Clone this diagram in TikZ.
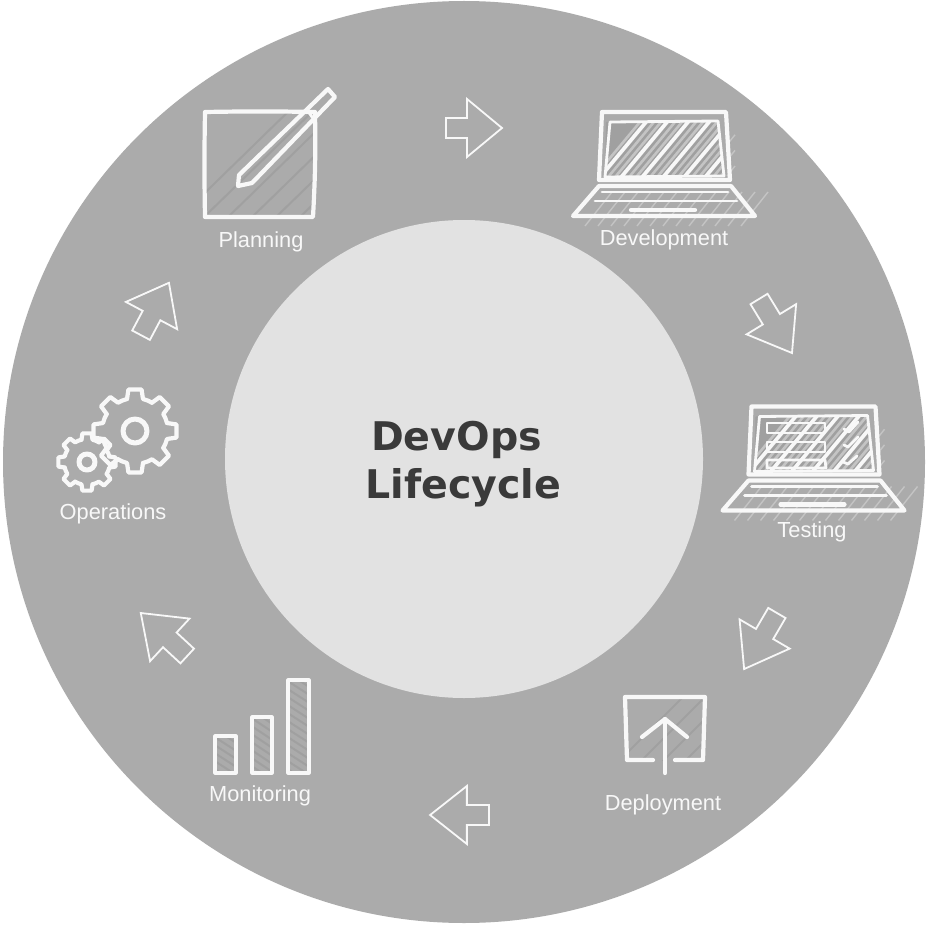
\documentclass[tikz,border=0pt]{standalone}
\usepackage{fontspec}
\setmainfont{Liberation Sans}
\newfontfamily\titlefont{DejaVu Sans}
\definecolor{ringgray}{HTML}{ABABAB}
\definecolor{hubgray}{HTML}{E2E2E2}
\definecolor{hatchdark}{HTML}{A0A0A0}
\definecolor{hatchpale}{HTML}{C4C4C4}
\definecolor{inkwhite}{HTML}{F8F8F8}
\definecolor{titleink}{HTML}{3A3A3A}
\tikzset{
  steplabel/.style={text=inkwhite,font=\fontsize{21.8}{24}\selectfont,inner sep=0pt},
  titleline/.style={text=titleink,font=\titlefont\bfseries\fontsize{39.5}{44}\selectfont,inner sep=0pt},
  sketch/.style={draw=inkwhite,line width=4.2pt,line join=round,line cap=round},
  thinsketch/.style={draw=inkwhite,line width=2.8pt,line join=round,line cap=round},
  flowarrow/.pic={
    \draw[draw=inkwhite,line width=1.8pt,line join=miter]
      (-28,-10) -- (-7,-10) -- (-7,-29) -- (28,0) -- (-7,29) -- (-7,10) -- (-28,10) -- cycle;
  },
  laptop/.pic={
    \begin{scope}
      \clip (606,122) -- (718,121) -- (724,176) -- (605,177) -- cycle;
      \fill[hatchdark] (600,115) rectangle (730,180);
      \foreach \k in {0,7,...,161} \draw[hatchpale,line width=2.6pt] (590+\k,182) -- (645+\k,116);
      \foreach \k in {0,21,...,147} \draw[inkwhite,line width=3.6pt] (596+\k,182) -- (651+\k,116);
    \end{scope}
    \foreach \k in {0,13,...,156} \draw[hatchpale,line width=1.4pt] (585+\k,226) -- (612+\k,192);
    \foreach \k in {0,13,26} \draw[hatchpale,line width=1.4pt] (727,176-\k*1.2) -- (735,166-\k*1.2);
    \draw[sketch] (602,112) -- (726,112) -- (730,180) -- (599,180) -- cycle;
    \draw[thinsketch] (610,122) -- (718,121) -- (724,176) -- (605,177) -- cycle;
    \draw[sketch] (599,186) -- (731,186) -- (755,216) -- (573,216) -- cycle;
    \draw[thinsketch] (602,192) -- (728,192);
    \draw[thinsketch] (595,201) -- (737,201);
    \draw[sketch] (631,210) -- (695,210);
  },
  gearwheel/.pic={
    \foreach \a in {0,45,...,315}
      \draw[sketch,rotate=\a] (-14:\gearroot) -- (-9:\geartip) -- (9:\geartip) -- (14:\gearroot) arc[start angle=14,end angle=31,radius=\gearroot];
    \draw[sketch,line width=5pt] (0,0) circle[radius=\gearhole];
  }
}
\begin{document}
\begin{tikzpicture}[x=1pt,y=-1pt]
\useasboundingbox (0,0) rectangle (928,925);
\fill[white] (0,0) rectangle (928,925);
\fill[ringgray] (464,462) circle[radius=461];
\fill[hubgray] (464,459) circle[radius=239];

% title
\node[titleline] (devops) at (456.5,440) {DevOps};
\node[titleline] (lifecycle) at (463.5,488) {Lifecycle};

% arrows between the stages
\pic at (474,128) {flowarrow};
\pic[rotate=-58.6,xscale=1.13] at (775.5,326) {flowarrow};
\pic[rotate=-120.3,xscale=1.16] at (760.5,641) {flowarrow};
\pic[rotate=180,xscale=1.05] at (459.5,815) {flowarrow};
\pic[rotate=-222.8,xscale=1.13] at (164,634.5) {flowarrow};
\pic[rotate=62,xscale=1.06] at (155,309) {flowarrow};

% planning
\begin{scope}
  \clip (205,112) rectangle (315,217);
  \foreach \k in {0,24,...,216} \draw[hatchdark,line width=2pt] (175+\k,222) -- (295+\k,105);
\end{scope}
\draw[sketch] (205,112) to[bend left=1] (315,112) to[bend left=2] (313,217) -- (205,217) to[bend left=1] cycle;
\draw[sketch] (239,175) -- (328,89) -- (335,97) -- (252,183) -- (238,186) -- cycle;
\draw[thinsketch] (307,110) -- (315,121);
\node[steplabel] (planning) at (261,242) {Planning};

% development
\pic at (0,0) {laptop};
\node[steplabel] (development) at (664,240) {Development};

% testing
\pic at (149.5,294.5) {laptop};
\draw[thinsketch] (767,423) -- (825,423) -- (825,433) -- (767,433) -- cycle;
\draw[thinsketch] (767,442) -- (825,442) -- (825,452) -- (767,452) -- cycle;
\draw[thinsketch] (767,460) -- (825,460) -- (826,468) -- (767,468) -- cycle;
\draw[thinsketch] (844,429) -- (849,432) -- (858,422);
\draw[thinsketch] (844,445) -- (848,447) -- (858,437);
\draw[thinsketch] (843,462) -- (848,464) -- (857,456);
\node[steplabel] (testing) at (812,532) {Testing};

% deployment
\begin{scope}
  \clip (625,697) rectangle (705,760);
  \foreach \k in {0,22,...,110} \draw[hatchdark,line width=2pt] (610+\k,770) -- (690+\k,690);
\end{scope}
\draw[sketch] (653,760) -- (627,760) -- (625,697) -- (705,697) -- (703,760) -- (675,760);
\draw[sketch] (665,773) -- (665,719);
\draw[sketch] (642,737) -- (665,719) -- (687,737);
\node[steplabel] (deployment) at (663,805) {Deployment};

% monitoring
\foreach \xa/\ya/\xb in {215/736/236,252/717/272,288/680/309} {
  \begin{scope}
    \clip (\xa,\ya) rectangle (\xb,773);
    \foreach \k in {0,8,...,100} \draw[hatchdark,line width=2pt] (\xa-5,\ya+\k-10) -- (\xb+5,\ya+\k+10);
  \end{scope}
  \draw[thinsketch,line width=3.2pt] (\xa,\ya) -- (\xb,\ya) -- (\xb,773) -- (\xa,773) -- cycle;
}
\node[steplabel] (monitoring) at (260,796) {Monitoring};

% operations
\def\gearroot{23}\def\geartip{29}\def\gearhole{8}
\pic at (87,462) {gearwheel};
\def\gearroot{33}\def\geartip{42}\def\gearhole{12}
\pic at (135,431) {gearwheel};
\node[steplabel] (operations) at (113,514) {Operations};
\end{tikzpicture}
\end{document}
